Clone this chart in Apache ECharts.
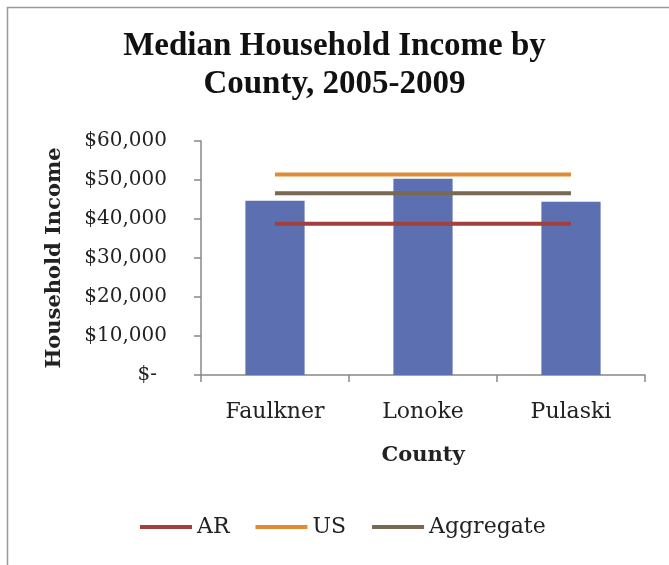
<!DOCTYPE html>
<html>
<head>
<meta charset="utf-8">
<style>
  html, body { margin: 0; padding: 0; background: #fff; }
  #chart { width: 669px; height: 565px; }
</style>
<script src="https://cdn.jsdelivr.net/npm/echarts@6/dist/echarts.min.js"></script>
</head>
<body>
<div id="chart"></div>
<script>
// Median household income, 2005-2009
const counties = ['Faulkner', 'Lonoke', 'Pulaski'];
const countyIncome = [44700, 50300, 44400];
const arIncome = [38800, 38800, 38800];
const usIncome = [51400, 51400, 51400];
const aggregateIncome = [46600, 46600, 46600];
const yTicks = { min: 0, max: 60000, step: 10000 };

const serif = '"DejaVu Serif", "Liberation Serif", serif';

function money(v) {
  if (v === 0) return '{z|$-}';
  return '$' + v.toLocaleString('en-US');
}

const chart = echarts.init(document.getElementById('chart'), null, { renderer: 'canvas' });

chart.setOption({
  backgroundColor: '#ffffff',
  animation: false,
  graphic: [{
    type: 'rect',
    left: 5, top: 5,
    shape: { width: 700, height: 600 },
    style: { fill: 'none', stroke: '#9a9a9a', lineWidth: 1.5 },
    silent: true
  }],
  title: {
    text: 'Median Household Income by\nCounty, 2005-2009',
    left: 'center',
    top: 27,
    padding: [0, 0, 0, 13],
    textStyle: {
      fontFamily: '"Liberation Serif", serif',
      fontSize: 33,
      fontWeight: 'bold',
      color: '#111',
      lineHeight: 38
    }
  },
  legend: {
    data: ['AR', 'US', 'Aggregate'],
    top: 511,
    left: 135,
    icon: 'rect',
    itemWidth: 52,
    itemHeight: 4,
    itemGap: 26,
    textStyle: { fontFamily: serif, fontSize: 22, color: '#222' }
  },
  grid: { left: 201, right: 24, top: 141, bottom: 190, containLabel: false },
  xAxis: {
    type: 'category',
    data: counties,
    boundaryGap: true,
    name: 'County',
    nameLocation: 'middle',
    nameGap: 70,
    nameTextStyle: { fontFamily: serif, fontSize: 21, fontWeight: 'bold', color: '#222' },
    axisLine: { lineStyle: { color: '#888', width: 1.5 } },
    axisTick: { show: true, length: 7, lineStyle: { color: '#888', width: 1.5 } },
    axisLabel: { fontFamily: serif, fontSize: 22, color: '#222', margin: 26 }
  },
  yAxis: {
    type: 'value',
    min: yTicks.min,
    max: yTicks.max,
    interval: yTicks.step,
    name: 'Household Income',
    nameLocation: 'middle',
    nameGap: 136,
    nameRotate: 90,
    nameTextStyle: { fontFamily: serif, fontSize: 21, fontWeight: 'bold', color: '#222' },
    splitLine: { show: false },
    axisLine: { show: true, lineStyle: { color: '#888', width: 1.5 } },
    axisTick: { show: true, length: 7, lineStyle: { color: '#888', width: 1.5 } },
    axisLabel: {
      fontFamily: serif, fontSize: 20, color: '#222', margin: 34,
      formatter: money,
      rich: { z: { fontFamily: serif, fontSize: 20, color: '#222', padding: [0, 10, 0, 0] } }
    }
  },
  series: [
    {
      name: 'Median Income',
      type: 'bar',
      data: countyIncome,
      barWidth: '40%',
      itemStyle: { color: '#5b6fb1' },
      z: 1
    },
    {
      name: 'AR', type: 'line', data: arIncome, symbol: 'none',
      lineStyle: { width: 4, color: '#a0403f' }, itemStyle: { color: '#a0403f' }, z: 3
    },
    {
      name: 'US', type: 'line', data: usIncome, symbol: 'none',
      lineStyle: { width: 4, color: '#e08b36' }, itemStyle: { color: '#e08b36' }, z: 3
    },
    {
      name: 'Aggregate', type: 'line', data: aggregateIncome, symbol: 'none',
      lineStyle: { width: 4, color: '#786a52' }, itemStyle: { color: '#786a52' }, z: 3
    }
  ]
});
</script>
</body>
</html>
